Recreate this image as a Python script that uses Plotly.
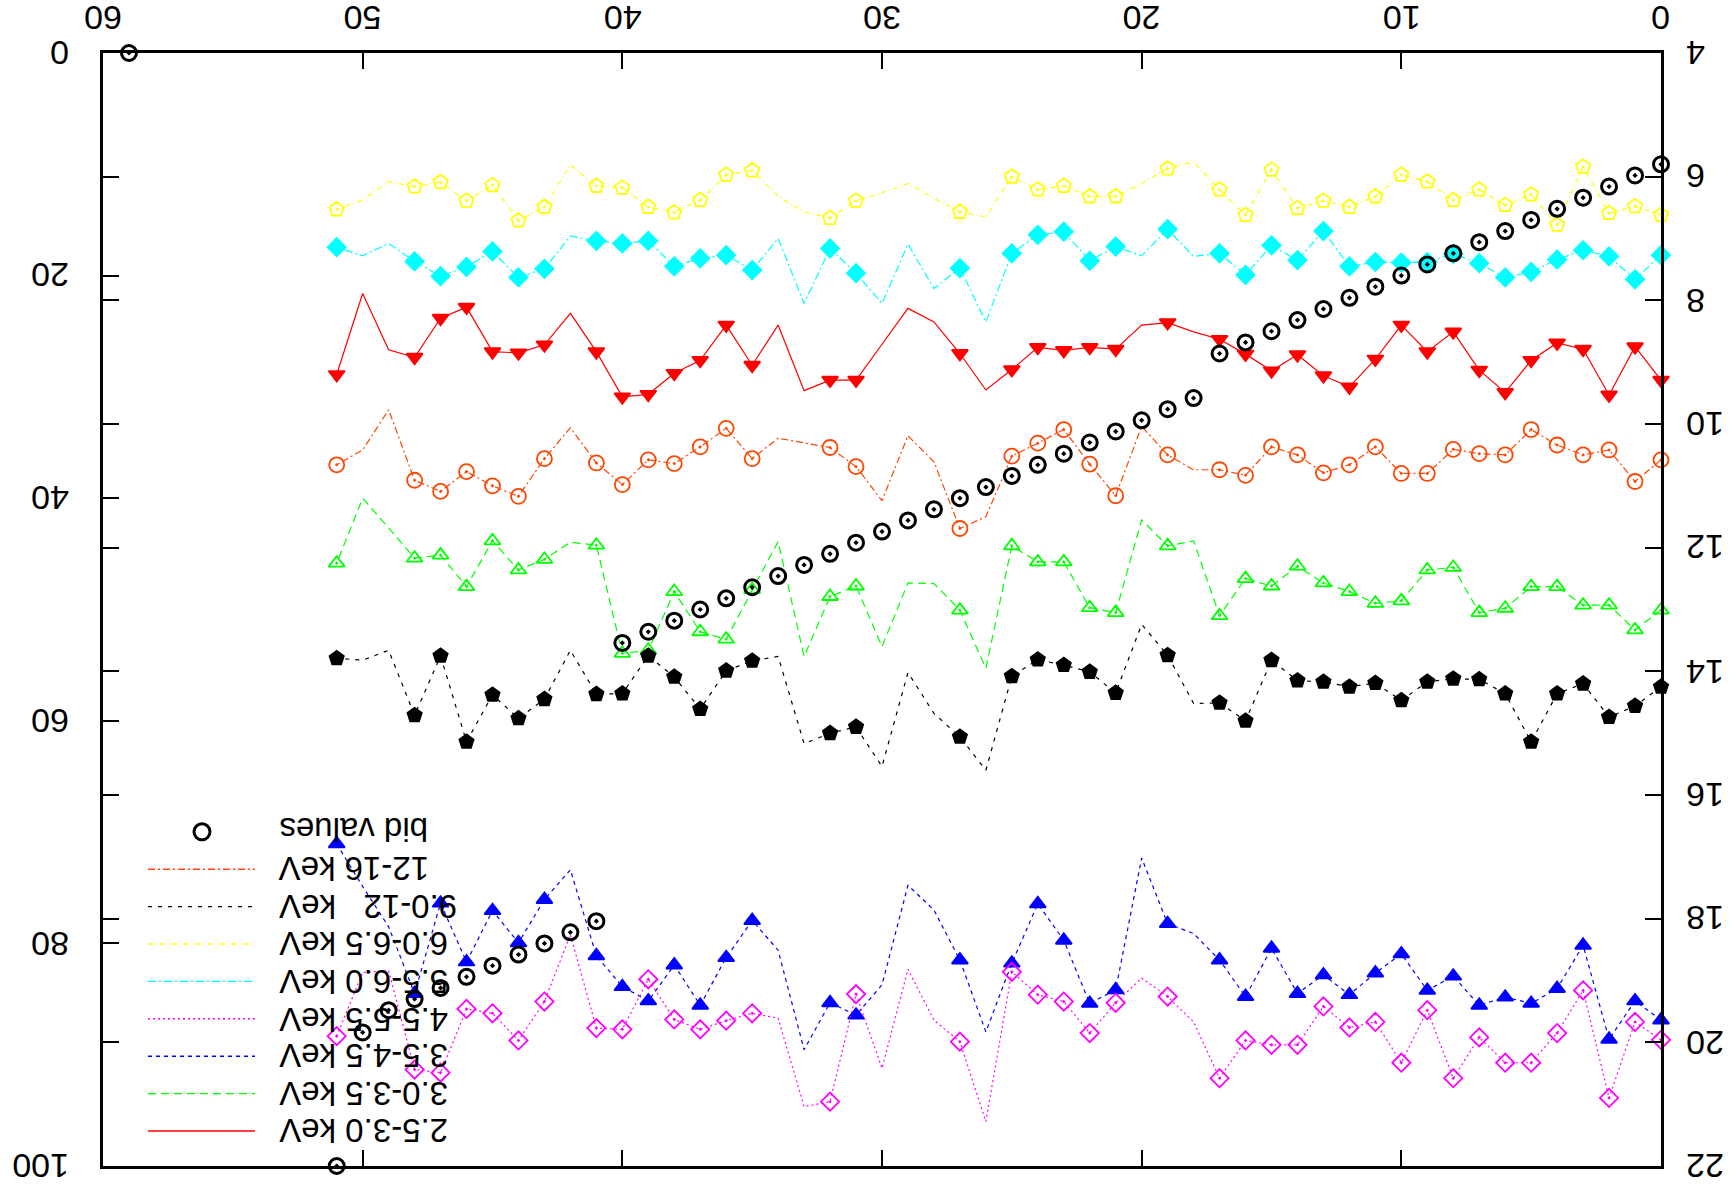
import plotly.graph_objects as go

# ---------------- data ----------------
x_index = list(range(52))
# positions where the series are drawn as line vertices only (no symbol)
no_marker_x = [18, 20, 26, 28, 29, 30, 33, 34, 42, 49, 50]

kev_2_5_3_0 = [9.29, 8.75, 9.53, 8.79, 8.69, 8.97, 9.49, 9.13, 8.51, 8.83,
               8.40, 8.95, 9.40, 9.22, 8.88, 9.14, 8.87, 8.63, 8.51, 8.36,
               8.40, 8.79, 8.76, 8.81, 8.76, 9.12, 9.45, 8.86, 8.35, 8.13,
               8.71, 9.29, 9.29, 9.46, 8.40, 9.05, 8.40, 8.97, 9.18, 9.52,
               9.56, 8.83, 8.21, 8.72, 8.85, 8.83, 8.11, 8.29, 8.92, 8.80,
               7.89, 9.20]
kev_3_0_3_5 = [13.01, 13.33, 12.93, 12.93, 12.63, 12.63, 12.98, 13.05, 12.32, 12.36,
               12.86, 12.90, 12.71, 12.57, 12.30, 12.62, 12.50, 13.10, 11.89, 11.97,
               11.55, 13.05, 12.97, 12.23, 12.23, 11.97, 13.95, 13.01, 12.58, 12.57,
               13.60, 12.62, 12.79, 13.76, 11.90, 12.68, 13.48, 13.36, 12.71, 13.66,
               13.71, 11.96, 11.91, 12.19, 12.36, 11.89, 12.63, 12.12, 12.17, 11.68,
               11.20, 12.25]
kev_3_5_4_5 = [19.64, 19.33, 19.95, 18.43, 19.13, 19.37, 19.27, 19.40, 18.93, 19.16,
               18.57, 18.88, 19.23, 18.91, 19.21, 18.48, 19.26, 18.67, 18.24, 18.08,
               17.02, 19.15, 19.37, 18.35, 17.76, 18.72, 19.83, 18.67, 17.86, 17.46,
               19.07, 19.56, 19.36, 20.12, 18.51, 18.03, 18.63, 19.40, 18.75, 19.33,
               19.10, 18.60, 17.21, 17.69, 18.39, 17.87, 18.70, 17.75, 19.21, 18.13,
               17.48, 16.79]
kev_4_5_5_5 = [19.96, 19.67, 20.90, 19.16, 19.85, 20.33, 20.33, 19.92, 20.58, 19.48,
               20.33, 19.67, 19.76, 19.42, 20.04, 20.04, 19.97, 20.58, 19.67, 19.26,
               18.96, 19.36, 19.85, 19.34, 19.23, 18.86, 21.28, 19.99, 19.64, 18.82,
               20.42, 19.22, 20.96, 21.04, 19.61, 19.53, 19.65, 19.79, 19.63, 18.98,
               19.79, 19.77, 18.26, 19.34, 19.97, 19.53, 19.46, 20.49, 20.44, 18.84,
               18.87, 19.90]
kev_5_5_6_0 = [7.27, 7.66, 7.29, 7.19, 7.34, 7.54, 7.63, 7.40, 7.25, 7.38,
               7.39, 7.38, 7.45, 6.88, 7.35, 7.11, 7.59, 7.24, 7.29, 6.85,
               7.28, 7.13, 7.36, 6.89, 6.94, 7.24, 8.35, 7.48, 7.81, 7.09,
               8.05, 7.56, 7.16, 8.05, 7.00, 7.51, 7.27, 7.32, 7.45, 7.04,
               7.08, 7.04, 6.96, 7.49, 7.63, 7.21, 7.46, 7.61, 7.37, 7.08,
               7.28, 7.14]
kev_6_0_6_5 = [6.62, 6.48, 6.59, 5.84, 6.78, 6.29, 6.46, 6.21, 6.38, 6.08,
               5.97, 6.32, 6.49, 6.39, 6.51, 5.89, 6.62, 6.21, 5.76, 5.87,
               6.11, 6.32, 6.32, 6.15, 6.21, 6.00, 6.65, 6.57, 6.35, 6.11,
               6.26, 6.39, 6.67, 6.57, 6.32, 5.90, 5.97, 6.38, 6.58, 6.49,
               6.18, 6.15, 5.81, 6.49, 6.71, 6.14, 6.39, 6.09, 6.16, 6.08,
               6.38, 6.53]
kev_9_0_12 = [14.25, 14.56, 14.74, 14.20, 14.36, 15.14, 14.36, 14.13, 14.12, 14.17,
              14.47, 14.19, 14.25, 14.17, 14.15, 13.82, 14.80, 14.51, 14.52, 13.74,
              13.24, 14.35, 14.01, 13.90, 13.81, 14.08, 15.60, 15.06, 14.68, 14.02,
              15.54, 14.90, 15.00, 15.17, 13.76, 13.83, 13.99, 14.61, 14.09, 13.75,
              14.36, 14.37, 13.66, 14.45, 14.76, 14.38, 15.14, 13.75, 14.71, 13.66,
              13.82, 13.79]
kev_12_16 = [10.58, 10.93, 10.42, 10.50, 10.34, 10.09, 10.50, 10.48, 10.41, 10.80,
             10.80, 10.37, 10.66, 10.79, 10.50, 10.37, 10.83, 10.74, 10.74, 10.50,
             10.04, 11.16, 10.65, 10.09, 10.31, 10.52, 11.50, 11.69, 10.61, 10.19,
             11.24, 10.69, 10.38, 10.31, 10.23, 10.56, 10.07, 10.37, 10.64, 10.58,
             10.98, 10.63, 10.06, 10.56, 11.17, 11.00, 10.77, 11.09, 10.91, 9.77,
             10.42, 10.66]

bid_x = list(range(52)) + [59]
bid_values = [10, 11, 12, 13, 14, 15, 16, 17, 18, 19,
              20, 21, 22, 23, 24, 25, 26, 27, 31, 32,
              33, 34, 35, 36, 37, 38, 39, 40, 41, 42,
              43, 44, 45, 46, 47, 48, 49, 50, 51, 52,
              53, 78, 79, 80, 81, 82, 83, 84, 85, 86,
              88, 100, 0]

x_ticks = [0, 10, 20, 30, 40, 50, 60]
right_ticks = [4, 6, 8, 10, 12, 14, 16, 18, 20, 22]
left_ticks = [0, 20, 40, 60, 80, 100]

names = ["2.5-3.0 keV", "3.0-3.5 keV", "3.5-4.5 keV", "4.5-5.5 keV",
         "5.5-6.0 keV", "6.0-6.5 keV", "9.0-12&nbsp;&nbsp; keV", "12-16 keV"]
values = [kev_2_5_3_0, kev_3_0_3_5, kev_3_5_4_5, kev_4_5_5_5,
          kev_5_5_6_0, kev_6_0_6_5, kev_9_0_12, kev_12_16]

# ---------------- styles ----------------
colors = ["#ff0000", "#00ff00", "#0000ff", "#ff00ff",
          "#00ffff", "#ffff00", "#000000", "#ff4500"]
dashes = ["solid", "8px,5px", "4px,4px", "2px,3px",
          "8px,3px,2px,3px", "5px,3px,1px,3px", "4px,6px", "7px,3px,2px,3px"]
symbols = ["triangle-down", "triangle-up-open-dot", "triangle-up", "diamond-open-dot",
           "diamond", "pentagon-open-dot", "pentagon", "circle-open-dot"]
sizes = [14, 14, 14, 14, 14, 15, 15, 15]

W, H = 1733, 1191
L, R, T, B = 103, 1661, 53, 1166
TICK_FONT = 34
LEG_FONT = 33

fig = go.Figure()

for name, vals, col, dsh, sym, sz in zip(names, values, colors, dashes, symbols, sizes):
    fig.add_trace(go.Scatter(
        x=x_index, y=vals, mode="lines", name=name,
        line=dict(color=col, width=1.2, dash=dsh),
        yaxis="y", showlegend=False, hoverinfo="skip"))
    mx = [xv for xv in x_index if xv not in no_marker_x]
    my = [vals[xv] for xv in mx]
    fig.add_trace(go.Scatter(
        x=mx, y=my, mode="markers", name=name,
        marker=dict(symbol=sym, size=sz, color=col,
                    line=dict(color=col, width=1.8)),
        yaxis="y", showlegend=False, cliponaxis=False))

fig.add_trace(go.Scatter(
    x=bid_x, y=bid_values, mode="markers", name="bid values",
    marker=dict(symbol="circle-open-dot", size=15, color="black",
                line=dict(color="black", width=3)),
    yaxis="y2", showlegend=False, cliponaxis=False))


def px_x(p):
    return (p - L) / (R - L)


def px_y(p):
    return (B - p) / (B - T)


# ---------------- upside-down tick labels ----------------
for v in x_ticks:
    fig.add_annotation(x=v, xref="x", y=px_y(18), yref="paper", text=str(v),
                       showarrow=False, textangle=180, xanchor="center",
                       yanchor="middle", font=dict(size=TICK_FONT, color="black"))
for v in right_ticks:
    fig.add_annotation(x=px_x(1684), xref="paper", y=v, yref="y", text=str(v),
                       showarrow=False, textangle=180, xanchor="left",
                       yanchor="middle", font=dict(size=TICK_FONT, color="black"))
for v in left_ticks:
    fig.add_annotation(x=px_x(71), xref="paper", y=v, yref="y2", text=str(v),
                       showarrow=False, textangle=180, xanchor="right",
                       yanchor="middle", font=dict(size=TICK_FONT, color="black"))

# ---------------- legend (drawn upside down, like the rest) ----------------
leg_entries = list(zip(names, colors, dashes))
for k, (name, col, dsh) in enumerate(leg_entries):
    yy = 1131 - 37.4 * k
    fig.add_shape(type="line", xref="paper", yref="paper",
                  x0=px_x(148), x1=px_x(255), y0=px_y(yy), y1=px_y(yy),
                  line=dict(color=col, width=1.4, dash=dsh))
    fig.add_annotation(x=px_x(278), y=px_y(yy), xref="paper", yref="paper",
                       text=name, showarrow=False, textangle=180,
                       xanchor="left", yanchor="middle", borderpad=0,
                       font=dict(size=LEG_FONT, color="black"))
yb = 1131 - 37.4 * 8
fig.add_shape(type="circle", xref="paper", yref="paper",
              x0=px_x(202 - 8), x1=px_x(202 + 8), y0=px_y(yb + 8), y1=px_y(yb - 8),
              line=dict(color="black", width=3))
fig.add_annotation(x=px_x(278), y=px_y(yb - 3), xref="paper", yref="paper",
                   text="bid values", showarrow=False, textangle=180,
                   xanchor="left", yanchor="middle", borderpad=0,
                   font=dict(size=LEG_FONT, color="black"))

axis_common = dict(ticks="inside", ticklen=16, tickwidth=2, tickcolor="black",
                   showgrid=False, zeroline=False, showticklabels=False,
                   automargin=False)

fig.update_layout(
    width=W, height=H,
    margin=dict(l=L, r=W - R, t=T, b=H - B, pad=0, autoexpand=False),
    paper_bgcolor="white", plot_bgcolor="white",
    showlegend=False,
    font=dict(family="Liberation Sans, Arial, sans-serif", size=34, color="black"),
    xaxis=dict(range=[60, 0], side="top", tickmode="array", tickvals=x_ticks,
               showline=True, linewidth=2.5, linecolor="black", mirror="ticks",
               **axis_common),
    yaxis=dict(range=[22, 4], side="right", tickmode="array", tickvals=right_ticks,
               showline=True, linewidth=2.5, linecolor="black", mirror="ticks",
               **axis_common),
    yaxis2=dict(range=[100, 0], side="left", overlaying="y", anchor="x",
                tickmode="array", tickvals=left_ticks,
                showline=False, **axis_common),
)

fig.write_html("out.html", config={"displayModeBar": False},
               post_script="document.body.style.margin='0';")
